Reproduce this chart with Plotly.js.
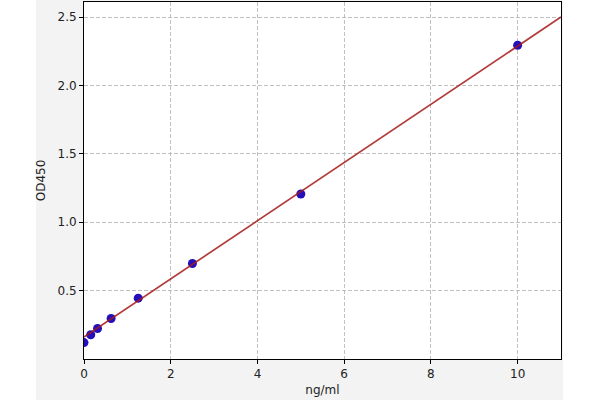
<!DOCTYPE html>
<html>
<head>
<meta charset="utf-8">
<script src="https://cdn.plot.ly/plotly-3.0.1.min.js"></script>
<style>
  html, body { margin: 0; padding: 0; background: #ffffff; }
  #chart { width: 600px; height: 400px; }
</style>
</head>
<body>
<div id="chart"></div>
<script>
// standard points
var conc = [0, 0.156, 0.3125, 0.625, 1.25, 2.5, 5, 10];
var od = [0.12, 0.177, 0.223, 0.296, 0.445, 0.698, 1.206, 2.294];

// fitted curve, read at the ends of the plot
var fitX = [0, 11];
var fitY = [0.16, 2.50];

var xTicks = [0, 2, 4, 6, 8, 10];
var yTicks = [0.5, 1.0, 1.5, 2.0, 2.5];
var yTickText = ['0.5', '1.0', '1.5', '2.0', '2.5'];

function loadPage() {
    var points = {
        x: conc,
        y: od,
        mode: 'markers',
        type: 'scatter',
        marker: { color: '#2310bb', size: 9, line: { width: 0 } },
        hoverinfo: 'x+y'
    };
    var fit = {
        x: fitX,
        y: fitY,
        mode: 'lines',
        type: 'scatter',
        line: { color: 'rgba(165,25,25,0.85)', width: 1.7 },
        hoverinfo: 'skip'
    };

    var axisFont = { family: 'DejaVu Sans', size: 12, color: '#222' };

    var layout = {
        width: 600,
        height: 400,
        margin: { l: 84, r: 39, t: 2, b: 41 },
        paper_bgcolor: '#ffffff',
        plot_bgcolor: 'rgba(0,0,0,0)',
        showlegend: false,
        font: axisFont,
        xaxis: {
            range: [0, 11],
            tickvals: xTicks,
            ticks: 'outside',
            ticklen: 4,
            tickcolor: '#000',
            showline: true,
            mirror: true,
            linecolor: '#000',
            linewidth: 1,
            showgrid: true,
            gridcolor: '#b0b0b0',
            griddash: '4px,2px',
            gridwidth: 0.8,
            zeroline: false,
            tickfont: axisFont,
            title: { text: 'ng/ml', font: axisFont, standoff: 5 }
        },
        yaxis: {
            range: [0, 2.61],
            tickvals: yTicks,
            ticktext: yTickText,
            ticks: 'outside',
            ticklen: 4,
            tickcolor: '#000',
            showline: true,
            mirror: true,
            linecolor: '#000',
            linewidth: 1,
            showgrid: true,
            gridcolor: '#b0b0b0',
            griddash: '4px,2px',
            gridwidth: 0.8,
            zeroline: false,
            tickfont: axisFont,
            title: { text: 'OD450', font: axisFont, standoff: 9 }
        },
        shapes: [
            // gray figure background
            { type: 'rect', xref: 'paper', yref: 'paper', layer: 'below',
              x0: -0.1006, x1: 1.0042, y0: -0.115, y1: 1.006,
              fillcolor: '#f3f3f3', line: { width: 0 } },
            // white axes area
            { type: 'rect', xref: 'paper', yref: 'paper', layer: 'below',
              x0: 0, x1: 1, y0: 0, y1: 1,
              fillcolor: '#ffffff', line: { width: 0 } }
        ]
    };

    Plotly.newPlot('chart', [points, fit], layout, { displayModeBar: false, staticPlot: true });
}

loadPage();
</script>
</body>
</html>
